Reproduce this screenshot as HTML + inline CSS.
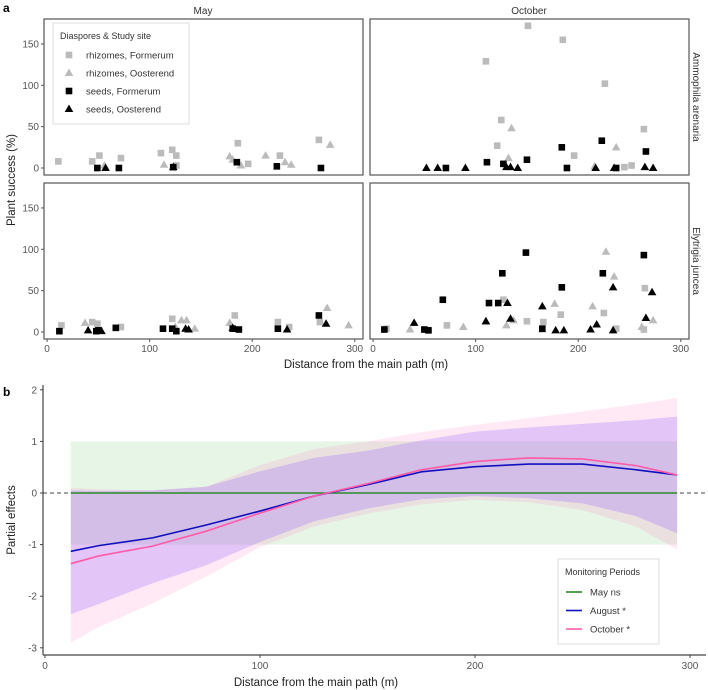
<!DOCTYPE html>
<html><head><meta charset="utf-8">
<style>
body{margin:0;background:#fff;}
svg{display:block;font-family:"Liberation Sans",sans-serif;}
</style></head>
<body>
<svg id="fig" width="708" height="690" viewBox="0 0 708 690">
<text x="3" y="12" font-size="12" font-weight="bold">a</text>
<text x="3" y="396" font-size="12" font-weight="bold">b</text>
<text x="203" y="14" font-size="10" fill="#333" text-anchor="middle">May</text>
<text x="529" y="14" font-size="10" fill="#333" text-anchor="middle">October</text>
<text transform="translate(693,97) rotate(90)" font-size="10" fill="#333" text-anchor="middle">Ammophila arenaria</text>
<text transform="translate(693,261) rotate(90)" font-size="10" fill="#333" text-anchor="middle">Elytrigia juncea</text>
<text transform="translate(15,180) rotate(-90)" font-size="11.5" fill="#222" text-anchor="middle">Plant success (%)</text>
<text x="366" y="368" font-size="11.5" fill="#222" text-anchor="middle">Distance from the main path (m)</text>
<text transform="translate(15,520) rotate(-90)" font-size="11.5" fill="#222" text-anchor="middle">Partial effects</text>
<text x="316" y="686" font-size="11.5" fill="#222" text-anchor="middle">Distance from the main path (m)</text>
<g id="pa"></g>
<g id="pb"></g>
</svg>
<script>
// ---- Panel a data: [distance, success] ----
const mayAmRhF=[[11,8],[44,8],[51,15],[72,12],[111,18],[122,22],[126,15],[126,3],[186,30],[196,5],[227,15],[265,34]];
const mayAmRhO=[[56,3],[114,4],[178,14],[181,10],[189,3],[213,15],[232,7],[238,4],[276,28]];
const mayAmSdF=[[49,0],[70,0],[123,1],[185,7],[224,2],[267,0]];
const mayAmSdO=[[57,0],[123,1]];
const octAmRhF=[[151,172],[185,155],[110,129],[226,102],[125,58],[121,27],[196,15],[264,47],[245,1],[252,3]];
const octAmRhO=[[135,48],[132,12],[237,25],[216,2],[265,1]];
const octAmSdF=[[71,0],[111,7],[127,5],[150,10],[184,25],[189,0],[223,33],[237,0],[266,20]];
const octAmSdO=[[52,0],[63,0],[90,0],[130,1],[134,1],[141,0],[217,0],[235,0],[265,1],[273,0]];
const mayElRhF=[[14,8],[44,12],[49,10],[72,6],[122,16],[183,20],[225,12],[236,6],[266,12]];
const mayElRhO=[[37,11],[131,14],[136,14],[144,4],[178,11],[273,29],[294,8],[125,6]];
const mayElSdF=[[12,1],[48,1],[50,2],[67,5],[113,4],[122,4],[181,4],[187,3],[225,4],[265,20],[126,1]];
const mayElSdO=[[40,2],[53,1],[135,4],[138,3],[234,3],[272,10],[181,5]];
const octElRhF=[[13,4],[72,8],[127,39],[150,13],[166,12],[183,21],[225,23],[265,53],[237,4],[264,3]];
const octElRhO=[[227,97],[235,67],[177,34],[214,31],[36,3],[88,6],[110,12],[130,8],[137,14],[165,3],[262,6],[273,14]];
const octElSdF=[[149,96],[264,93],[126,71],[224,71],[184,54],[68,39],[113,35],[122,35],[11,3],[50,3],[54,2],[165,4]];
const octElSdO=[[131,35],[165,31],[234,54],[272,48],[40,11],[134,16],[110,13],[178,2],[186,2],[212,3],[218,9],[234,2],[266,17]];
const yTicksA=[0,50,100,150];
const xTicks=[0,100,200,300];
// ---- Panel b data ----
const bx=[12,25,50,75,100,125,150,175,200,225,250,275,294];
const augFit=[-1.13,-1.02,-0.87,-0.62,-0.35,-0.06,0.16,0.41,0.51,0.56,0.56,0.45,0.35];
const octFit=[-1.37,-1.22,-1.03,-0.74,-0.39,-0.06,0.18,0.45,0.61,0.68,0.66,0.53,0.35];
const augUp=[0.05,0.04,0.05,0.12,0.42,0.68,0.82,1.02,1.19,1.27,1.34,1.41,1.48];
const augLo=[-2.35,-2.15,-1.75,-1.4,-0.95,-0.55,-0.3,-0.12,-0.06,-0.1,-0.2,-0.45,-0.78];
const octUp=[0.1,0.07,0.05,0.12,0.54,0.85,1.0,1.18,1.32,1.45,1.58,1.72,1.84];
const octLo=[-2.9,-2.6,-2.14,-1.62,-1.05,-0.65,-0.4,-0.22,-0.13,-0.18,-0.33,-0.65,-1.1];
const mayUp=[1,1,1,1,1,1,1,1,1,1,1,1,1];
const mayLo=[-1,-1,-1,-1,-1,-1,-1,-1,-1,-1,-1,-1,-1];
const mayFit=[0,0,0,0,0,0,0,0,0,0,0,0,0];
const yTicksB=[-3,-2,-1,0,1,2];

const NS="http://www.w3.org/2000/svg";
function mk(tag,attrs,parent){const e=document.createElementNS(NS,tag);for(const k in attrs)e.setAttribute(k,attrs[k]);parent.appendChild(e);return e;}
const pa=document.getElementById('pa');
const panels=[
 {x0:44,x1:363,y0:19,y1:175,sets:[mayAmRhF,mayAmRhO,mayAmSdF,mayAmSdO],yt:true,xt:false,name:'panel-may-ammophila'},
 {x0:370,x1:689,y0:19,y1:175,sets:[octAmRhF,octAmRhO,octAmSdF,octAmSdO],yt:false,xt:false,name:'panel-october-ammophila'},
 {x0:44,x1:363,y0:183,y1:339,sets:[mayElRhF,mayElRhO,mayElSdF,mayElSdO],yt:true,xt:true,name:'panel-may-elytrigia'},
 {x0:370,x1:689,y0:183,y1:339,sets:[octElRhF,octElRhO,octElSdF,octElSdO],yt:false,xt:true,name:'panel-october-elytrigia'}];
const styles=[['sq','#bbb'],['tri','#bbb'],['sq','#000'],['tri','#000']];
const setNames=['rhizomes-formerum','rhizomes-oosterend','seeds-formerum','seeds-oosterend'];
function marker(g,t,c,X,Y){
 let e;
 if(t==='sq'){e=mk('rect',{x:X-3.3,y:Y-3.3,width:6.6,height:6.6,fill:c},g);}
 else{e=mk('polygon',{points:`${X},${Y-4.5} ${X+4.3},${Y+3} ${X-4.3},${Y+3}`,fill:c},g);}
 return e;
}
panels.forEach(p=>{
 const g=mk('g',{},pa);
 
 
 const xs=v=>p.x0+(v+3)*(p.x1-p.x0)/311;
 const ys=v=>p.y1-7-v*0.827;
 p.sets.forEach((s,i)=>{s.forEach(d=>{
  const m=marker(g,styles[i][0],styles[i][1],xs(d[0]),ys(d[1]));
  
  
 });});
 const fr=mk('rect',{x:p.x0,y:p.y0,width:p.x1-p.x0,height:p.y1-p.y0,fill:'none',stroke:'#555','stroke-width':1.2},g);
 
 
 if(p.yt){yTicksA.forEach(t=>{
  mk('line',{x1:p.x0-3,x2:p.x0,y1:ys(t),y2:ys(t),stroke:'#555'},g);
  const tx=mk('text',{x:p.x0-5,y:ys(t)+3.5,'font-size':10,fill:'#555','text-anchor':'end'},g);tx.textContent=t;
  
  
 });}
 if(p.xt){xTicks.forEach(t=>{
  mk('line',{x1:xs(t),x2:xs(t),y1:p.y1,y2:p.y1+3,stroke:'#555'},g);
  const tx=mk('text',{x:xs(t),y:p.y1+13,'font-size':10,fill:'#555','text-anchor':'middle'},g);tx.textContent=t;
  
  
 });}
});
// legend a
const lg=mk('g',{},pa);


mk('rect',{x:53,y:23,width:136,height:101,fill:'#fff',stroke:'#ddd'},lg);
const lt=mk('text',{x:60,y:39,'font-size':9,fill:'#333'},lg);lt.textContent='Diaspores & Study site';
const labs=['rhizomes, Formerum','rhizomes, Oosterend','seeds, Formerum','seeds, Oosterend'];
labs.forEach((l,i)=>{
 const yy=55+i*18;
 const m=marker(lg,styles[i][0],styles[i][1],69,yy);
 
 
 const t=mk('text',{x:86,y:yy+3.5,'font-size':9.5,fill:'#333'},lg);t.textContent=l;
 
 
});
// ---- Panel b ----
const pb=document.getElementById('pb');
const X=v=>45+v*2.15, Y=v=>493-v*51.6;
function band(up,lo,fill,name){
 let d='M'+bx.map((x,i)=>X(x)+','+Y(up[i])).join('L');
 d+='L'+bx.slice().reverse().map((x,j)=>X(x)+','+Y(lo[bx.length-1-j])).join('L')+'Z';
 const e=mk('path',{d:d,fill:fill},pb);
 
 
}
function line(f,col,name){
 const e=mk('path',{d:'M'+bx.map((x,i)=>X(x)+','+Y(f[i])).join('L'),fill:'none',stroke:col,'stroke-width':1.6,'stroke-linejoin':'round'},pb);
 
 
}
band(mayUp,mayLo,'rgba(60,180,60,0.13)','band-may');
band(octUp,octLo,'rgba(255,120,190,0.16)','band-october');
band(augUp,augLo,'rgba(130,70,255,0.22)','band-august');
const zl=mk('line',{x1:43,x2:706,y1:Y(0),y2:Y(0),stroke:'#444','stroke-dasharray':'4,3','stroke-width':1},pb);


line(mayFit,'#2a8a2a','line-may');
line(augFit,'#1010c0','line-august');
line(octFit,'#ff5aa8','line-october');
// axes
mk('line',{x1:43,x2:43,y1:385,y2:655,stroke:'#444','stroke-width':1.2},pb);
mk('line',{x1:43,x2:706,y1:655,y2:655,stroke:'#444','stroke-width':1.2},pb);
yTicksB.forEach(t=>{
 mk('line',{x1:40,x2:43,y1:Y(t),y2:Y(t),stroke:'#444'},pb);
 const tx=mk('text',{x:37,y:Y(t)+3.5,'font-size':10,fill:'#555','text-anchor':'end'},pb);tx.textContent=t;
 
 
});
xTicks.forEach(t=>{
 mk('line',{x1:X(t),x2:X(t),y1:655,y2:658,stroke:'#444'},pb);
 const tx=mk('text',{x:X(t),y:669,'font-size':10,fill:'#555','text-anchor':'middle'},pb);tx.textContent=t;
 
 
});
// legend b
const lb=mk('g',{},pb);


mk('rect',{x:558,y:559,width:101,height:85,fill:'#fff',stroke:'#ddd'},lb);
const lbt=mk('text',{x:565,y:575,'font-size':9,fill:'#333'},lb);lbt.textContent='Monitoring Periods';
[['May ns','#2a8a2a'],['August *','#1010c0'],['October *','#ff5aa8']].forEach((e,i)=>{
 const yy=592+i*18.5;
 mk('line',{x1:566,x2:582,y1:yy,y2:yy,stroke:e[1],'stroke-width':1.6},lb);
 const t=mk('text',{x:590,y:yy+3.5,'font-size':9.5,fill:'#333'},lb);t.textContent=e[0];
 
 
});
</script>
</body></html>
